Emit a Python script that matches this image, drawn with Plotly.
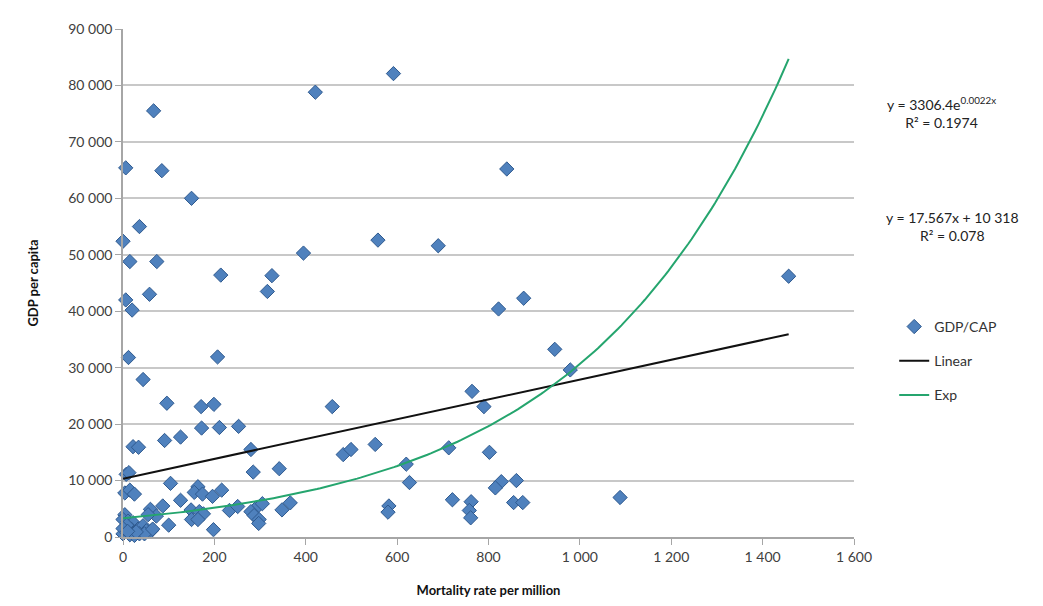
import numpy as np
import plotly.graph_objects as go

# mortality rate per million (x) and GDP per capita (y)
mortalite = [0, 6, 67, 85, 150, 421, 592, 840,
             36, 15, 74, 214, 326, 395, 558, 690,
             58, 6, 20, 316, 1457, 877, 822,
             12, 207, 44, 945, 979,
             96, 171, 199, 458, 764, 790,
             172, 211, 253, 91, 126, 22, 34,
             280, 482, 499, 552, 713, 802,
             7, 13, 285, 342, 620, 627, 104,
             828, 815, 861, 855, 875, 721, 762, 758, 761, 1088, 582, 580,
             4, 15, 25, 164, 156, 174, 196, 216, 126, 87, 60, 149, 167, 176,
             233, 251, 291, 305, 280, 287, 298, 297, 348, 366, 150, 164, 100,
             198, 73, 55,
             4, 0, 11, 22, 4, 18, 33, 44, 51, 62, 36, 15, 0, 25, 47, 65, 8,
             29, 0, 10]
pib = [52400, 65400, 75500, 64900, 60000, 78800, 82100, 65200,
       55000, 48800, 48800, 46400, 46300, 50300, 52600, 51600,
       43000, 42000, 40200, 43500, 46200, 42300, 40400,
       31800, 31900, 27900, 33250, 29600,
       23700, 23100, 23500, 23100, 25800, 23100,
       19300, 19400, 19600, 17100, 17700, 16000, 15900,
       15500, 14600, 15500, 16400, 15800, 15000,
       11100, 11400, 11500, 12100, 12900, 9650, 9500,
       9800, 8700, 10000, 6100, 6100, 6600, 6250, 4700, 3400, 7000, 5500, 4400,
       7800, 8300, 7600, 8900, 7900, 7600, 7200, 8300, 6500, 5500, 4900, 4800, 4500, 4100,
       4700, 5400, 5100, 5900, 4500, 3800, 3100, 2400, 4800, 6050, 3100, 3100, 2100,
       1300, 3700, 3950,
       3950, 3100, 2800, 2550, 1400, 1400, 1400, 2000, 1100, 1100, 560, 400, 560, 280, 560, 1400, 2100,
       900, 1500, 1000]

# trendline coefficients (as shown in the chart labels)
lin_pente, lin_orig = 17.567, 10318
exp_a, exp_b = 3306.4, 0.002226

x_tend = np.linspace(0, max(mortalite), 200)

fig = go.Figure()
fig.add_trace(go.Scatter(x=mortalite, y=pib, mode='markers', name='GDP/CAP',
                         legendgroup='a', cliponaxis=False,
                         marker=dict(symbol='diamond', size=11, color='#4F81BD',
                                     line=dict(color='#2F5A8F', width=1))))
fig.add_trace(go.Scatter(x=x_tend, y=lin_pente * x_tend + lin_orig, mode='lines',
                         name='Linear', legendgroup='b',
                         line=dict(color='#111111', width=2)))
fig.add_trace(go.Scatter(x=x_tend, y=exp_a * np.exp(exp_b * x_tend), mode='lines',
                         name='Exp', legendgroup='c',
                         line=dict(color='#25A56E', width=2)))

police = dict(family='Lato, Liberation Sans, sans-serif', size=14, color='#404040')

fig.update_layout(
    width=1043, height=606,
    margin=dict(l=115, r=197, t=14, b=77),
    plot_bgcolor='white', paper_bgcolor='white',
    font=police,
    separators='. ',
    showlegend=True,
    legend=dict(x=1.055, y=0.445, xanchor='left', yanchor='top',
                tracegroupgap=13, font=dict(size=14, color='#333333'),
                bgcolor='rgba(0,0,0,0)'),
    annotations=[
        dict(x=1.12, y=0.835, xref='paper', yref='paper', showarrow=False,
             xanchor='center', yanchor='middle',
             text='y = 3306.4e<sup>0.0022x</sup><br>R² = 0.1974',
             font=dict(size=14, color='#222222')),
        dict(x=1.135, y=0.612, xref='paper', yref='paper', showarrow=False,
             xanchor='center', yanchor='middle',
             text='y = 17.567x + 10 318<br>R² = 0.078',
             font=dict(size=14, color='#222222')),
    ],
)
fig.update_xaxes(range=[0, 1600], dtick=200, showgrid=False, zeroline=False,
                 showline=True, linecolor='#A6A6A6', linewidth=1.5,
                 ticks='outside', tickcolor='#A6A6A6', ticklen=6,
                 tickformat=',d', separatethousands=True,
                 title=dict(text='<b>Mortality rate per million</b>', standoff=22,
                            font=dict(size=13, color='#111111')))
fig.update_yaxes(range=[0, 90000], dtick=10000, showgrid=True, gridcolor='#C8C8C8',
                 gridwidth=1.5, zeroline=False,
                 showline=True, linecolor='#A6A6A6', linewidth=1.5,
                 ticks='outside', tickcolor='#A6A6A6', ticklen=6,
                 tickformat=',d', separatethousands=True,
                 title=dict(text='<b>GDP per capita</b>', standoff=27,
                            font=dict(size=13, color='#111111')))

fig.write_html("out.html")
